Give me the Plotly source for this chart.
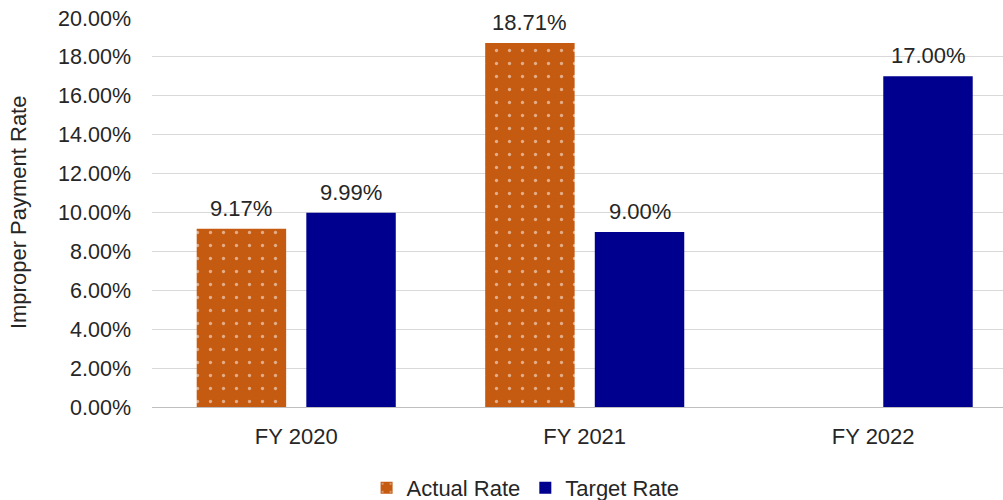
import plotly.graph_objects as go

categories = ["FY 2020", "FY 2021", "FY 2022"]
actual_rate = [0.0917, 0.1871, None]
target_rate = [0.0999, 0.0900, 0.1700]
y_ticks = [0, 0.02, 0.04, 0.06, 0.08, 0.10, 0.12, 0.14, 0.16, 0.18, 0.20]

FONT = "Arial, Liberation Sans, sans-serif"
TXT = "#262626"
FS = 22

def lbl(v):
    return f"{v*100:.2f}%"

fig = go.Figure()
fig.add_trace(go.Bar(
    name="Actual Rate", x=categories, y=actual_rate,
    marker=dict(color="#C55A11",
                pattern=dict(shape=".", fgcolor="white", bgcolor="#C55A11",
                             size=13, solidity=0.05, fillmode="overlay"),
                line=dict(width=0)),
))
fig.add_trace(go.Bar(
    name="Target Rate", x=categories, y=target_rate,
    marker=dict(color="#00008F", line=dict(width=0)),
))

annotations = []
for series, shift in ((actual_rate, -55), (target_rate, 55)):
    for cat, v in zip(categories, series):
        if v is None:
            continue
        annotations.append(dict(x=cat, y=v, xref="x", yref="y", text=lbl(v),
                                showarrow=False, xanchor="center", yanchor="bottom",
                                xshift=shift, yshift=6,
                                font=dict(size=FS, color=TXT, family=FONT)))
annotations.append(dict(text="Improper Payment Rate", textangle=-90, xref="paper", yref="paper",
                        x=-0.1575, y=0.501, xanchor="center", yanchor="middle", showarrow=False,
                        font=dict(size=FS, color=TXT, family=FONT)))

fig.update_layout(
    width=1003, height=500,
    margin=dict(l=152, r=0, t=18, b=93),
    paper_bgcolor="white", plot_bgcolor="white",
    barmode="group", bargap=0.24, bargroupgap=0.184,
    font=dict(family=FONT, size=FS, color=TXT),
    showlegend=True,
    legend=dict(orientation="h", xref="paper", x=0.439, xanchor="center",
                yref="container", y=0.024, yanchor="middle",
                font=dict(size=FS, color=TXT, family=FONT), itemsizing="constant",
                traceorder="normal"),
    xaxis=dict(range=[-0.5, 2.45], showgrid=False, showline=True, linecolor="#BFBFBF",
               linewidth=1, ticks="", tickfont=dict(size=FS, color=TXT, family=FONT),
               ticklabelstandoff=10),
    yaxis=dict(range=[0, 0.2], tickvals=y_ticks, tickformat=".2%",
               showgrid=True, gridcolor="#D9D9D9", gridwidth=1, zeroline=False,
               showline=False, ticks="", tickfont=dict(size=21.5, color=TXT, family=FONT),
               ticklabelstandoff=20),
    annotations=annotations,
)

fig.write_html("out.html")
